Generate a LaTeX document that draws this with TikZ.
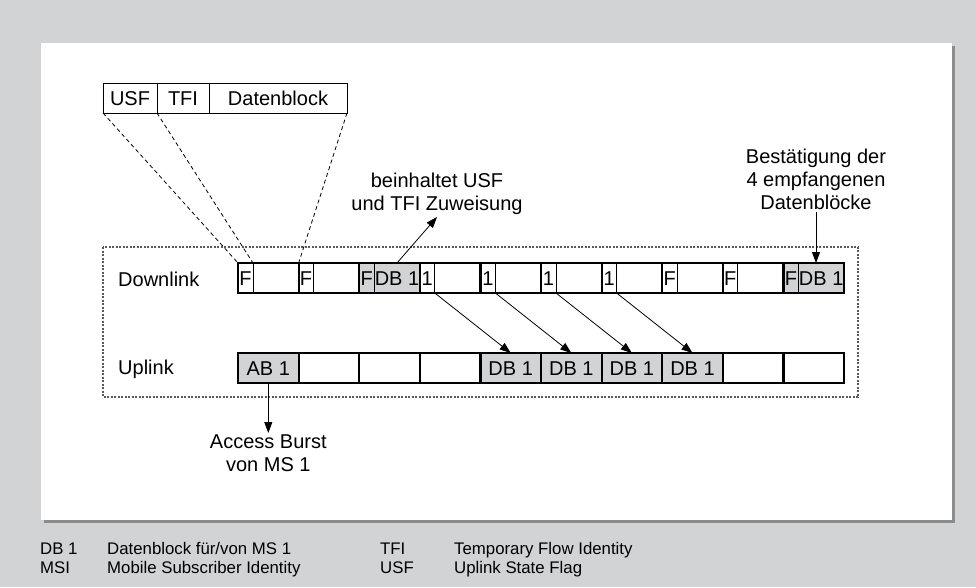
\documentclass[tikz,border=0pt]{standalone}
\usepackage{fontspec}
\setmainfont{Liberation Sans}
\usetikzlibrary{positioning, arrows.meta}
\definecolor{panelgray}{RGB}{209,211,212}
\definecolor{shadowgray}{RGB}{140,140,140}
\definecolor{cellgray}{RGB}{209,211,212}
\definecolor{framegray}{RGB}{90,90,90}

\begin{document}
\begin{tikzpicture}[
  x=1pt, y=-1pt,
  txt/.style={font=\fontsize{20}{23}\selectfont, align=center, inner sep=2pt},
  hdr/.style={draw, line width=1pt, minimum height=30pt, inner sep=0pt,
    outer sep=0pt, text height=14.5pt, text depth=0pt, font=\fontsize{20}{23}\selectfont},
  cell/.style={draw, line width=0.9pt, minimum height=30pt, minimum width=60.6pt,
    inner sep=0pt, outer sep=0pt, text height=14.5pt, text depth=0pt,
    font=\fontsize{20}{23}\selectfont},
  flag/.style={cell, minimum width=15pt},
  data/.style={cell, minimum width=45.6pt},
  rowline/.style={line width=2.2pt},
  map/.style={dash pattern=on 4pt off 3pt, line width=0.8pt},
  conn/.style={-{Triangle[length=11pt, width=8pt]}, line width=0.8pt},
  legend/.style={font=\fontsize{16.8}{19}\selectfont, anchor=base west, inner sep=0pt}
]
  \useasboundingbox (0,0) rectangle (976,587);
  \fill[panelgray] (0,0) rectangle (976,587);
  \fill[shadowgray] (44,46) rectangle (955,523);
  \fill[white] (41,43) rectangle (952,520);
  \draw[framegray, line width=1.2pt, dash pattern=on 2pt off 1.5pt] (103,247) rectangle (858,397);

  % burst layout
  \node[hdr, minimum width=54pt, anchor=north west] (usf) at (103,83) {USF};
  \node[hdr, minimum width=52pt, right=0pt of usf] (tfi) {TFI};
  \node[hdr, minimum width=138pt, right=0pt of tfi] (datb) {Datenblock};

  \node[txt, anchor=west] (dl) at (116,279) {Downlink};
  \node[txt, anchor=west] (ul) at (116,369) {Uplink};

  % downlink slots
  \foreach \f/\d/\c [count=\i] in {F//white, F//white, F/DB 1/cellgray, 1//white, 1//white,
      1//white, 1//white, F//white, F//white, F/DB 1/cellgray} {
    \node[flag, fill=\c, anchor=west] (f\i) at ({238+60.6*(\i-1)},278) {\f};
    \node[data, fill=\c, right=0pt of f\i] (d\i) {\d};
  }
  % uplink slots
  \foreach \t/\c [count=\i] in {AB 1/cellgray, /white, /white, /white, DB 1/cellgray,
      DB 1/cellgray, DB 1/cellgray, DB 1/cellgray, /white, /white} {
    \node[cell, fill=\c, anchor=west] (u\i) at ({238+60.6*(\i-1)},368) {\t};
  }

  \draw[rowline] (f1.north west) rectangle (d10.south east);
  \draw[rowline] (u1.north west) rectangle (u10.south east);
  \foreach \i in {2,...,10} {
    \draw[rowline] (f\i.north west) -- (f\i.south west);
    \draw[rowline] (u\i.north west) -- (u\i.south west);
  }

  \draw[map] (usf.south west) -- (f1.north west);
  \draw[map] (usf.south east) -- (f1.north east);
  \draw[map] (datb.south east) -- (d1.north east);

  \foreach \i/\j in {4/5, 5/6, 6/7, 7/8}
    \draw[conn] (f\i.south east) -- (u\j.north);

  \node[txt, anchor=south] (incl) at (437,217) {beinhaltet USF\\und TFI Zuweisung};
  \node[txt, anchor=south] (ack) at (816,212) {Bestätigung der\\4 empfangenen\\Datenblöcke};
  \node[txt, below=50pt of u1] (acc) {Access Burst\\von MS 1};

  \draw[conn] (d3.north) -- (incl.south);
  \draw[conn] (ack.south) -- (ack.south |- d10.north);
  \draw[conn] (u1.south) -- (acc.north);

  % legend
  \node[legend] (k1) at (40,554) {DB 1};
  \node[legend] (k1t) at (107,554) {Datenblock für/von MS 1};
  \node[legend] (k2) at (40,573) {MSI};
  \node[legend] (k2t) at (107,573) {Mobile Subscriber Identity};
  \node[legend] (k3) at (380,554) {TFI};
  \node[legend] (k3t) at (454,554) {Temporary Flow Identity};
  \node[legend] (k4) at (380,573) {USF};
  \node[legend] (k4t) at (454,573) {Uplink State Flag};
\end{tikzpicture}
\end{document}
